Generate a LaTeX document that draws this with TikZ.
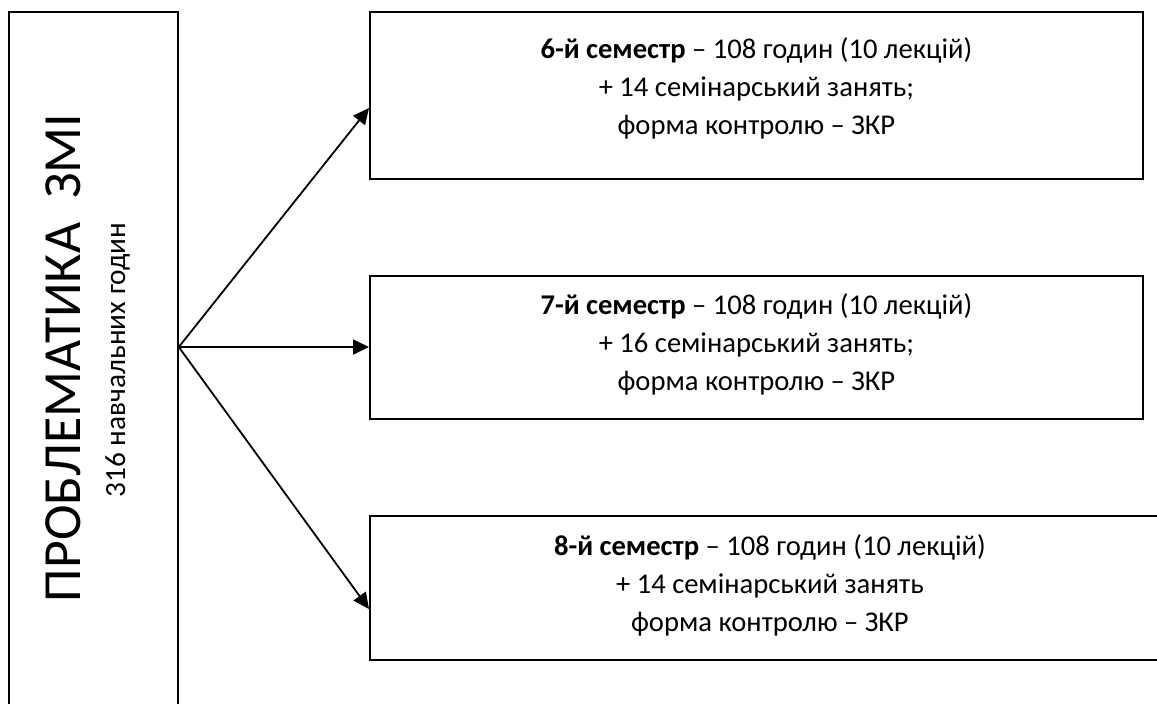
\documentclass[tikz,border=0pt]{standalone}
\usepackage{fontspec}
\setmainfont{Carlito}
\usetikzlibrary{arrows.meta}
\begin{document}
\begin{tikzpicture}[x=1pt,y=-1pt,
  boxnode/.style={draw, line width=1.8pt, rectangle, inner sep=0pt, anchor=north west},
  txt/.style={font=\fontsize{28.6}{38}\selectfont, align=center, inner sep=0pt, anchor=north},
  conn/.style={line width=1.8pt, -{Triangle[length=16pt,width=15pt]}}]
\useasboundingbox (0,0) rectangle (1157,704);
\clip (0,0) rectangle (1157,704);
\node[boxnode, minimum width=169pt, minimum height=720pt] (main) at (8,11) {};
\node[rotate=90, anchor=base, inner sep=0pt, font=\fontsize{53.7}{60}\selectfont] (title) at (80,358) {ПРОБЛЕМАТИКА\hspace{0.45em}ЗМІ};
\node[rotate=90, anchor=base, inner sep=0pt, font=\fontsize{29.3}{32}\selectfont] (sub) at (125,360) {316 навчальних годин};
\node[boxnode, minimum width=773pt, minimum height=167pt] (b1) at (369,11) {};
\node[boxnode, minimum width=773pt, minimum height=143pt] (b2) at (369,275) {};
\node[boxnode, minimum width=800pt, minimum height=144pt] (b3) at (369,515) {};
\node[txt] (t1) at ([yshift=-26pt]b1.north) {\textbf{6-й семестр} – 108 годин (10 лекцій)\\+ 14 семінарський занять;\\форма контролю – ЗКР};
\node[txt] (t2) at ([yshift=-18pt]b2.north) {\textbf{7-й семестр} – 108 годин (10 лекцій)\\+ 16 семінарський занять;\\форма контролю – ЗКР};
\node[txt] (t3) at ([yshift=-19pt]b3.north) {\textbf{8-й семестр} – 108 годин (10 лекцій)\\+ 14 семінарський занять\\форма контролю – ЗКР};
\coordinate (src) at ([yshift=-336pt]main.north east);
\draw[conn] (src) -- ([yshift=-97pt]b1.north west);
\draw[conn] (src) -- ([yshift=-72pt]b2.north west);
\draw[conn] (src) -- ([yshift=-94pt]b3.north west);
\end{tikzpicture}
\end{document}
